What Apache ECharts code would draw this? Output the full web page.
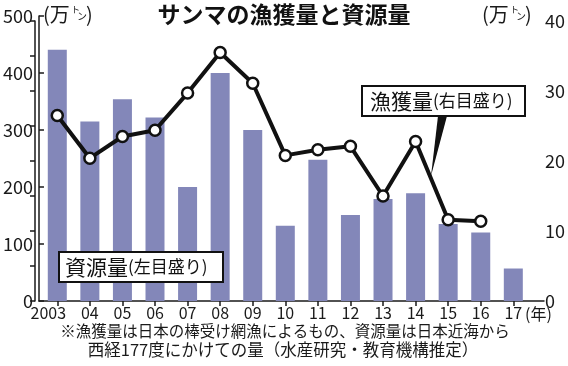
<!DOCTYPE html>
<html>
<head>
<meta charset="utf-8">
<script src="https://cdn.jsdelivr.net/npm/echarts@6/dist/echarts.min.js"></script>
<style>
html,body{margin:0;padding:0;background:#fff;}
#c{width:568px;height:366px;}
</style>
</head>
<body>
<div id="c"></div>
<script>
// ---- data ----
const years = ['2003','04','05','06','07','08','09','10','11','12','13','14','15','16','17'];
const stockValues = [441,315,354,322,200,400,300,132,248,151,179,189,135,120,57];   // 資源量 (万トン, left)
const catchValues = [26.5,20.4,23.5,24.4,29.7,35.5,31.1,20.8,21.6,22.1,15.0,22.8,11.6,11.4,null]; // 漁獲量 (万トン, right)
const leftTicks = {min:0, max:500, interval:100};
const rightTicks = {min:0, max:40, interval:5, labelEvery:10};
const titleText = 'サンマの漁獲量と資源量';
const stockLabel = '資源量';
const stockNote = '(左目盛り)';
const catchLabel = '漁獲量';
const catchNote = '(右目盛り)';
const footnote1 = '※漁獲量は日本の棒受け網漁によるもの、資源量は日本近海から';
const footnote2 = '西経177度にかけての量（水産研究・教育機構推定）';

const FF = '"Noto Sans CJK JP", "Noto Sans", sans-serif';
const INK = '#1a1a1a';
const chart = echarts.init(document.getElementById('c'), null, {renderer:'canvas'});

function unitLabel(x0, y0) {
  return [
    {type:'text', left:x0, top:y0, z:50, style:{text:'(万', font:'20px '+FF, fill:INK}},
    {type:'text', left:x0+28, top:y0+1, z:50, style:{text:'ト', font:'9px '+FF, fill:INK}},
    {type:'text', left:x0+34, top:y0+7, z:50, style:{text:'ン', font:'10px '+FF, fill:INK}},
    {type:'text', left:x0+43, top:y0, z:50, style:{text:')', font:'20px '+FF, fill:INK}}
  ];
}

const option = {
  backgroundColor:'#fff',
  animation:false,
  grid:[
    {left:41, right:38.4, top:16, bottom:65},
    {left:41, right:38.4, top:21, bottom:65},
    {left:35, right:24, top:16, bottom:65},
    {left:35, right:24, top:21, bottom:65}
  ],
  xAxis:[
    {gridIndex:0, type:'category', data:years, boundaryGap:true,
     axisLine:{show:false},
     axisTick:{show:true, inside:false, length:5, alignWithLabel:true, interval:0, lineStyle:{color:INK, width:1.5}},
     axisLabel:{interval:0, hideOverlap:false, fontSize:16, fontFamily:FF, color:INK, margin:4,
       formatter:function(v,i){ return i===0 ? '{f|'+v+'}' : v; },
       rich:{f:{fontSize:16, fontFamily:FF, color:INK, padding:[0,18,0,0]}}},
     splitLine:{show:false}},
    {gridIndex:1, type:'category', data:years, boundaryGap:true, show:false},
    {gridIndex:2, type:'value', min:0, max:1,
     axisLine:{show:true, onZero:false, lineStyle:{color:INK, width:1.5}},
     axisTick:{show:false}, axisLabel:{show:false}, splitLine:{show:false}},
    {gridIndex:3, type:'value', min:0, max:1, show:false}
  ],
  yAxis:[
    {gridIndex:0, type:'value', min:leftTicks.min, max:leftTicks.max, show:false},
    {gridIndex:1, type:'value', min:rightTicks.min, max:rightTicks.max, show:false},
    {gridIndex:2, type:'value', position:'left', min:leftTicks.min, max:leftTicks.max, interval:leftTicks.interval,
     axisLine:{show:true, lineStyle:{color:INK, width:1.5}},
     axisTick:{show:true, inside:true, length:5, lineStyle:{color:INK, width:1.5}},
     axisLabel:{fontSize:18, fontFamily:FF, color:INK, margin:6},
     splitLine:{show:false}},
    {gridIndex:3, type:'value', position:'right', min:rightTicks.min, max:rightTicks.max, interval:rightTicks.interval,
     axisLine:{show:true, lineStyle:{color:INK, width:1.5}},
     axisTick:{show:true, inside:true, length:5, lineStyle:{color:INK, width:1.5}},
     axisLabel:{fontSize:18, fontFamily:FF, color:INK, margin:3,
       formatter:function(v){ return v % rightTicks.labelEvery === 0 ? String(v) : ''; }},
     splitLine:{show:false}}
  ],
  series:[
    {type:'bar', xAxisIndex:0, yAxisIndex:0, data:stockValues, barWidth:19,
     itemStyle:{color:'#8387b9'}, z:2},
    {type:'line', xAxisIndex:1, yAxisIndex:1, data:catchValues, z:5,
     lineStyle:{color:'#111', width:4}, symbol:'circle', symbolSize:11,
     itemStyle:{color:'#fff', borderColor:'#111', borderWidth:2.5}}
  ],
  graphic:[
    {type:'text', x:284, y:14, z:50, style:{text:titleText, font:'bold 23px '+FF, fill:'#111', align:'center', verticalAlign:'middle'}},
    ...unitLabel(43, 4),
    ...unitLabel(482, 4),
    {type:'text', x:525, y:314, z:50, style:{text:'(年)', font:'16px '+FF, fill:INK, verticalAlign:'middle'}},
    // legend box: stock
    {type:'rect', z:40, shape:{x:59, y:252, width:164, height:30}, style:{fill:'#fff', stroke:'#111', lineWidth:2}},
    {type:'text', z:41, x:65, y:267, style:{text:'{b|'+stockLabel+'}{s|'+stockNote+'}', verticalAlign:'middle',
      rich:{b:{font:'21px '+FF, fill:'#111'}, s:{font:'17px '+FF, fill:'#111'}}}},
    // legend box: catch with pointer
    {type:'polygon', z:39, shape:{points:[[438,116],[447,116],[431,176]]}, style:{fill:'#111'}},
    {type:'rect', z:40, shape:{x:362, y:86, width:163, height:30}, style:{fill:'#fff', stroke:'#111', lineWidth:2}},
    {type:'text', z:41, x:370, y:101, style:{text:'{b|'+catchLabel+'}{s|'+catchNote+'}', verticalAlign:'middle',
      rich:{b:{font:'21px '+FF, fill:'#111'}, s:{font:'17px '+FF, fill:'#111'}}}},
    // footnotes
    {type:'text', z:50, x:285, y:331, style:{text:footnote1, font:'15.5px '+FF, fill:INK, align:'center', verticalAlign:'middle'}},
    {type:'text', z:50, x:283, y:350, style:{text:footnote2, font:'16.5px '+FF, fill:INK, align:'center', verticalAlign:'middle'}}
  ]
};
chart.setOption(option);
</script>
</body>
</html>
